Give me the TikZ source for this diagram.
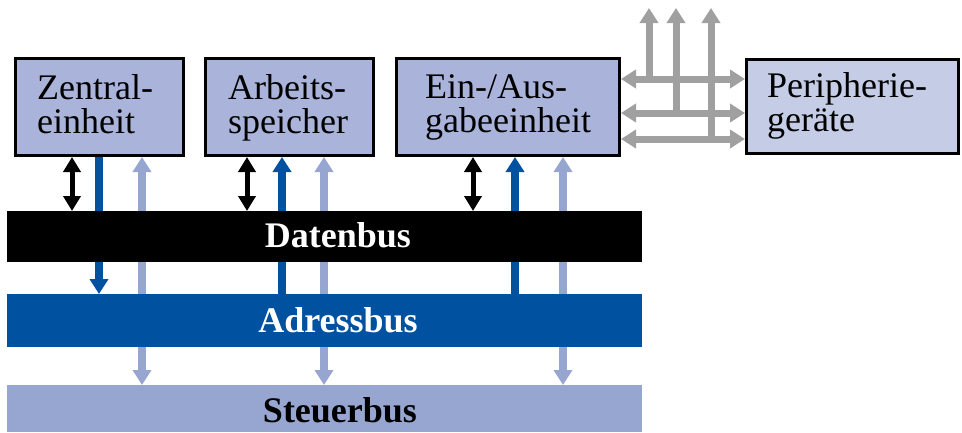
\documentclass[tikz,border=0pt]{standalone}
\usepackage{fontspec}
\setmainfont{Liberation Serif}
\usetikzlibrary{arrows.meta}
\pgfdeclarelayer{bg}
\pgfsetlayers{bg,main}
\definecolor{boxfill}{RGB}{170,180,218}
\definecolor{perfill}{RGB}{197,205,230}
\definecolor{adrblue}{RGB}{0,82,160}
\definecolor{ctrlblue}{RGB}{151,166,208}
\definecolor{periogray}{RGB}{160,160,160}
\begin{document}
\begin{tikzpicture}[x=1pt,y=-1pt,
  unitbox/.style={draw=black,line width=3pt,fill=boxfill,minimum height=97pt,inner sep=0pt},
  busbar/.style={draw=none,fill=#1,minimum width=635pt,inner sep=0pt,outer sep=0pt},
  boxtext/.style={anchor=base west,inner sep=0pt,font=\fontsize{36}{34}\selectfont},
  bustext/.style={anchor=base,inner sep=0pt,font=\fontsize{36}{34}\selectfont\bfseries},
  tipA/.tip={Triangle[width=17pt,length=15pt]},
  tipB/.tip={Triangle[width=18pt,length=15pt]},
  dataarrow/.style={line width=5pt,{tipA}-{tipA}},
  adrline/.style={line width=8pt,draw=adrblue},
  ctrlarrow/.style={line width=8pt,draw=ctrlblue,{tipB}-{tipB}},
  grayarrow/.style={line width=7pt,draw=periogray}
]
\useasboundingbox (0,0) rectangle (962,432);

% units
\node[unitbox,minimum width=168pt] (cpu) at (99.5,107) {};
\node[unitbox,minimum width=168pt] (mem) at (289.5,107) {};
\node[unitbox,minimum width=223pt] (io) at (508,107) {};
\node[unitbox,fill=perfill,minimum width=212pt,minimum height=94pt] (per) at (852.5,106.5) {};

\node[boxtext] (cpu1) at (37,99) {Zentral-};
\node[boxtext] (cpu2) at (37,133) {einheit};
\node[boxtext] (mem1) at (228,99) {Arbeits-};
\node[boxtext] (mem2) at (228,133) {speicher};
\node[boxtext] (io1) at (425,98) {Ein-/Aus-};
\node[boxtext] (io2) at (425,132) {gabeeinheit};
\node[boxtext] (per1) at (767,97) {Peripherie-};
\node[boxtext] (per2) at (767,131) {geräte};

% buses
\node[busbar=black,minimum height=51pt] (dbus) at (324.5,236.5) {};
\node[busbar=adrblue,minimum height=53pt] (abus) at (324.5,320.5) {};
\node[busbar=ctrlblue,minimum height=47pt] (sbus) at (324.5,408.5) {};
\node[bustext,text=white] (dlbl) at (338,247) {Datenbus};
\node[bustext,text=white] (albl) at (338,332) {Adressbus};
\node[bustext,text=black] (slbl) at (340,422) {Steuerbus};

% columns
\coordinate (d1) at (72,0);
\coordinate (d2) at (247,0);
\coordinate (d3) at (473,0);
\coordinate (a1) at (99,0);
\coordinate (a2) at (282,0);
\coordinate (a3) at (515,0);
\coordinate (s1) at (142,0);
\coordinate (s2) at (324,0);
\coordinate (s3) at (563,0);
\coordinate (g1) at (0,79);
\coordinate (g2) at (0,113);
\coordinate (g3) at (0,139);
\coordinate (v1) at (649,79);
\coordinate (v2) at (676,113);
\coordinate (v3) at (711,139);
\coordinate (t1) at (649,8);
\coordinate (t2) at (676,8);
\coordinate (t3) at (711,8);

\begin{pgfonlayer}{bg}
  % data bus
  \draw[dataarrow] (cpu.south -| d1) -- (dbus.north -| d1);
  \draw[dataarrow] (mem.south -| d2) -- (dbus.north -| d2);
  \draw[dataarrow] (io.south -| d3) -- (dbus.north -| d3);
  % address bus
  \draw[adrline,-{tipB}] (cpu.south -| a1) -- (abus.north -| a1);
  \draw[adrline,-{tipB}] (abus.north -| a2) -- (mem.south -| a2);
  \draw[adrline,-{tipB}] (abus.north -| a3) -- (io.south -| a3);
  % control bus
  \draw[ctrlarrow] (cpu.south -| s1) -- (sbus.north -| s1);
  \draw[ctrlarrow] (mem.south -| s2) -- (sbus.north -| s2);
  \draw[ctrlarrow] (io.south -| s3) -- (sbus.north -| s3);
\end{pgfonlayer}

% peripheral lines
\draw[grayarrow,-{tipB}] (v1) -- (t1);
\draw[grayarrow,-{tipB}] (v2) -- (t2);
\draw[grayarrow,-{tipB}] (v3) -- (t3);
\draw[grayarrow,{tipB}-{tipB}] (io.east |- g1) -- (per.west |- g1);
\draw[grayarrow,{tipB}-{tipB}] (io.east |- g2) -- (per.west |- g2);
\draw[grayarrow,{tipB}-{tipB}] (io.east |- g3) -- (per.west |- g3);
\end{tikzpicture}
\end{document}
